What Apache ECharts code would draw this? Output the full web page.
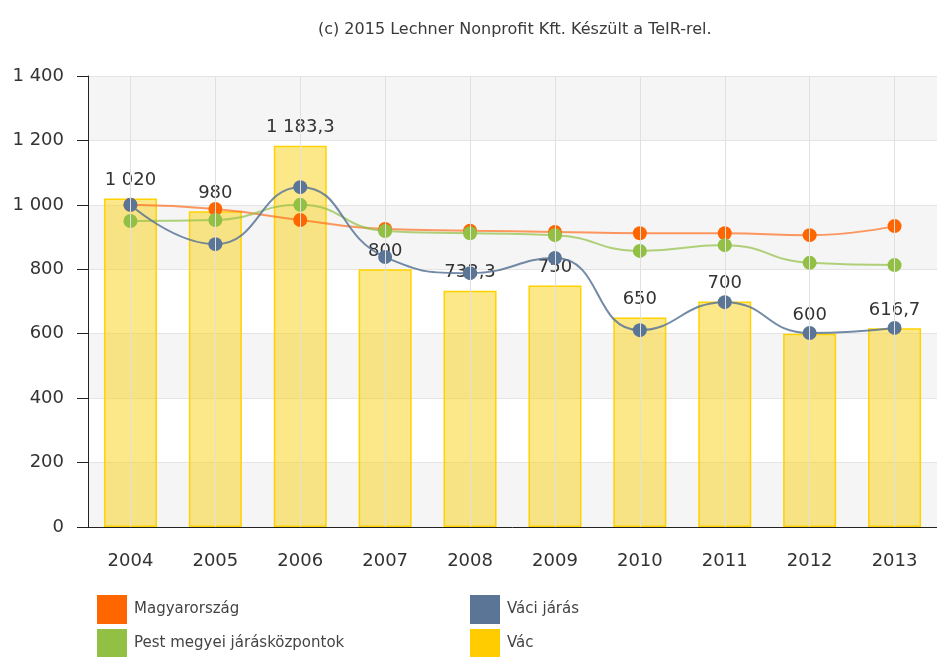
<!DOCTYPE html>
<html>
<head>
<meta charset="utf-8">
<title>Vác</title>
<script src="https://cdn.jsdelivr.net/npm/echarts@6/dist/echarts.min.js"></script>
<style>
  html, body { margin: 0; padding: 0; background: #fff; }
  #chart { width: 937px; height: 657px; }
</style>
</head>
<body>
<div id="chart"></div>
<script>
// évek
var years = ['2004', '2005', '2006', '2007', '2008', '2009', '2010', '2011', '2012', '2013'];
// sorozatok
var magyarorszag = [1000, 987, 953, 925, 920, 916, 912, 912, 906, 934];
var pestMegyei = [950, 953, 1000, 919, 912, 906, 857, 875, 820, 813];
var vaciJaras = [1000, 878, 1055, 838, 788, 835, 611, 698, 602, 618];
var vac = [1020, 980, 1183.3, 800, 733.3, 750, 650, 700, 600, 616.7];

// magyar számformátum: 1 183,3
function huFormat(v) {
  var s = (Math.round(v * 10) / 10).toString().split('.');
  s[0] = s[0].replace(/\B(?=(\d{3})+(?!\d))/g, ' ');
  return s.join(',');
}

var font = 'DejaVu Sans';

function lineSeries(name, data, dot, line) {
  return {
    name: name,
    type: 'line',
    data: data,
    smooth: true,
    z: 3,
    symbol: 'circle',
    symbolSize: 14,
    itemStyle: { color: dot },
    lineStyle: { color: line, width: 2 }
  };
}

// egy jelmagyarázat-elem
function legendItem(left, top, item) {
  return {
    left: left,
    top: top,
    padding: 0,
    icon: 'rect',
    itemWidth: 30,
    itemHeight: 29,
    textStyle: { fontFamily: font, fontSize: 15, color: '#444', padding: [0, 0, 0, 2] },
    data: [item]
  };
}

var myChart = echarts.init(document.getElementById('chart'));
var option = {
  animation: false,
  textStyle: { fontFamily: font },
  title: {
    text: '(c) 2015 Lechner Nonprofit Kft. Készült a TeIR-rel.',
    left: 313,
    top: 17,
    textStyle: { fontFamily: font, fontSize: 16, fontWeight: 'normal', color: '#3a3a3a' }
  },
  legend: [
    legendItem(97, 595, 'Magyarország'),
    legendItem(97, 629, 'Pest megyei járásközpontok'),
    legendItem(470, 595, 'Váci járás'),
    legendItem(470, 629, { name: 'Vác', itemStyle: { color: '#ffcc00', opacity: 1, borderWidth: 0 } })
  ],
  grid: { left: 88, right: -12, top: 76, bottom: 130 },
  xAxis: {
    type: 'category',
    data: years,
    axisLine: { lineStyle: { color: '#222', width: 1 } },
    axisTick: { alignWithLabel: true, length: 10, lineStyle: { color: '#222' } },
    axisLabel: { fontFamily: font, fontSize: 18, color: '#333', margin: 25 },
    splitLine: { show: false }
  },
  yAxis: {
    type: 'value',
    min: 0,
    max: 1400,
    interval: 200,
    axisLine: { show: true, lineStyle: { color: '#222', width: 1 } },
    axisTick: { show: true, length: 11, lineStyle: { color: '#222' } },
    axisLabel: { fontFamily: font, fontSize: 18, color: '#333', margin: 24, formatter: huFormat },
    splitLine: { lineStyle: { color: '#e4e4e4' } },
    splitArea: { show: true, areaStyle: { color: ['#f5f5f5', '#ffffff'] } }
  },
  series: [
    lineSeries('Magyarország', magyarorszag, '#ff6600', 'rgba(255,110,30,0.7)'),
    lineSeries('Pest megyei járásközpontok', pestMegyei, '#92c045', 'rgba(146,192,69,0.7)'),
    lineSeries('Váci járás', vaciJaras, '#5b7597', 'rgba(91,117,151,0.85)'),
    {
      name: 'Vác',
      type: 'bar',
      data: vac,
      z: 2,
      barWidth: 53,
      itemStyle: { color: 'rgba(250,210,20,0.5)', borderColor: '#ffd200', borderWidth: 1.5 },
      label: {
        show: true,
        position: 'top',
        distance: 9,
        fontFamily: font,
        fontSize: 18,
        color: '#333',
        formatter: function (p) { return huFormat(p.value); }
      },
      // függőleges rácsvonalak a kategóriák közepén
      markLine: {
        silent: true,
        symbol: 'none',
        label: { show: false },
        lineStyle: { color: '#e0e0e0', width: 1, type: 'solid' },
        data: years.map(function (y) { return { xAxis: y }; })
      }
    }
  ]
};
// beállítások alkalmazása
myChart.setOption(option);
</script>
</body>
</html>
